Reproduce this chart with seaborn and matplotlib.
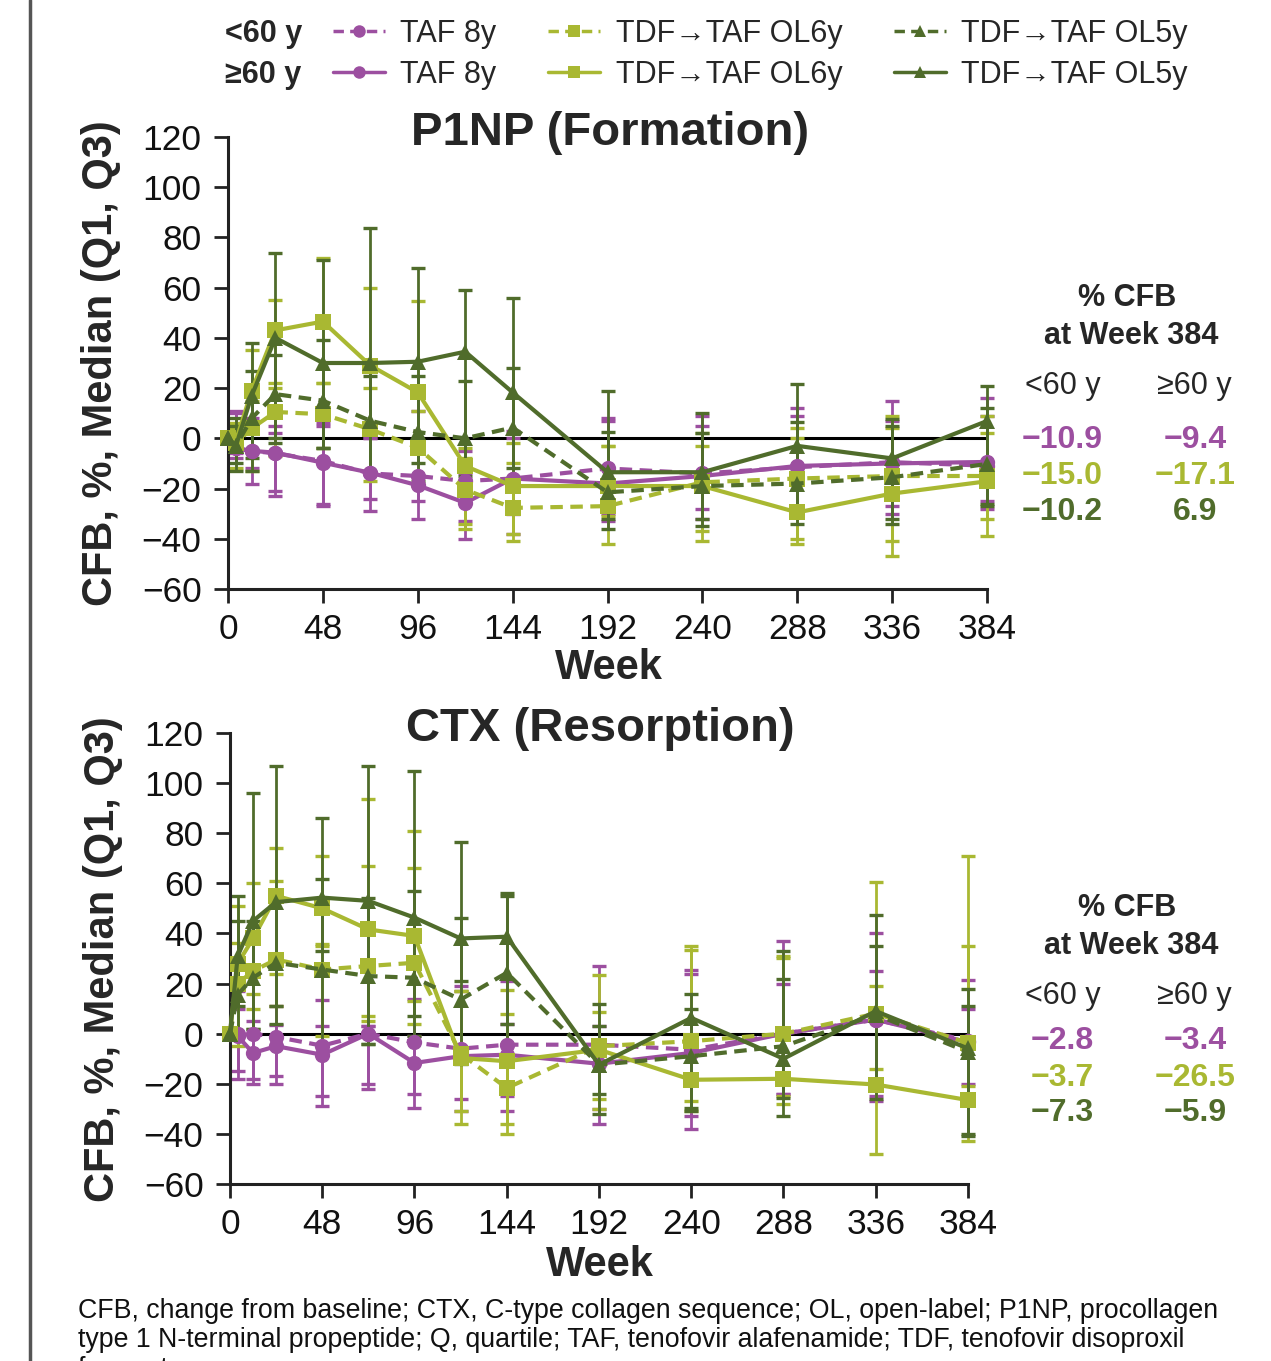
import matplotlib
matplotlib.use("Agg")
import matplotlib.pyplot as plt
from matplotlib.lines import Line2D
import seaborn as sns
import pandas as pd

W, H = 1271, 1361

weeks = [0, 4, 12, 24, 48, 72, 96, 120, 144, 192, 240, 288, 336, 384]
xticks = [0, 48, 96, 144, 192, 240, 288, 336, 384]
yticks = [-60, -40, -20, 0, 20, 40, 60, 80, 100, 120]

series_names = ["TAF <60", "TAF ≥60", "OL6 <60", "OL6 ≥60", "OL5 <60", "OL5 ≥60"]
legend_labels = ["TAF 8y", "TAF 8y", "TDF→TAF OL6y", "TDF→TAF OL6y", "TDF→TAF OL5y", "TDF→TAF OL5y"]

# ---------------- P1NP (Formation) ----------------
p1np_taf_lt60_med = [0, -4, -5, -6, -9, -14, -15, -17, -16, -12, -14, -11.5, -9.5, -10.9]
p1np_taf_lt60_q1 = [0, -6, -12, -21, -26, -24, -25, -33, -30, -30, -28, -27, -27, -25]
p1np_taf_lt60_q3 = [0, 10, 8, 5, 5, 0, 11, -5, 0, 8, 5, 9, 7, 9]
p1np_taf_ge60_med = [0, -4, -5, -5.7, -9.7, -13.7, -18.7, -25.7, -16, -18, -15, -11, -10, -9.4]
p1np_taf_ge60_q1 = [0, -8, -18, -23, -27, -29, -32, -40, -38, -33, -32, -29, -30, -28]
p1np_taf_ge60_q3 = [0, 11, 5, 2, 6, 0, -5, -14, 3, 7, 9, 12, 15, 16]
p1np_ol6_lt60_med = [0, -2, 4, 10.5, 9.6, 3.6, -3.7, -20.4, -27.7, -27, -17.5, -16, -15, -15.0]
p1np_ol6_lt60_q1 = [0, -5, -5, -7, -4, -17, -19, -36, -41, -42, -41, -40, -41, -32]
p1np_ol6_lt60_q3 = [0, 4, 15, 22, 22, 20, 11, -8, -10, -3, 2, 0, 4, 9]
p1np_ol6_ge60_med = [0, -1, 19, 43, 46.5, 29, 18.3, -11, -19, -19, -19, -29.5, -22, -17.1]
p1np_ol6_ge60_q1 = [0, -12, -13, 20, 22, 5, -3, -34, -38, -31, -37, -42, -47, -39]
p1np_ol6_ge60_q3 = [0, 6, 35, 55, 72, 60, 54.5, -4, -2, -3, -3, 4, 9, 2]
p1np_ol5_lt60_med = [0, -3, 8, 17.6, 15, 7, 2.5, 0, 4.3, -21.5, -19, -18, -15.5, -10.2]
p1np_ol5_lt60_q1 = [0, -10, -13, -2, -4, -14, -10, -15, -20, -36, -32, -30, -32, -26]
p1np_ol5_lt60_q3 = [0, 5, 27, 33, 39, 25, 25, 23, 28, 2.4, 2, 6.6, 5, 12]
p1np_ol5_ge60_med = [0, -3, 17, 40, 30, 30, 30.5, 34.5, 18.3, -13.5, -13.5, -3, -8, 6.9]
p1np_ol5_ge60_q1 = [0, -13, -8, 0, -4, -14, -17, -19, -12, -32, -35, -34, -34, -27]
p1np_ol5_ge60_q3 = [0, 8, 38, 74, 71, 83.6, 68, 59, 56, 18.7, 10, 21.6, 7.7, 21]

# ---------------- CTX (Resorption) ----------------
ctx_taf_lt60_med = [0, 0, 0, -1.3, -4.8, 0, -3.5, -6, -4.4, -4.4, -6.4, 0, 5.6, -2.8]
ctx_taf_lt60_q1 = [0, -15, -18, -17, -25, -20, -24, -31, -25, -30, -33, -24, -25, -20]
ctx_taf_lt60_q3 = [0, 10, 5, 11, 3, 3, 14, 17, 4, 3, 24, 20, 25, 10]
ctx_taf_ge60_med = [0, -1, -7.7, -5, -8.4, 0, -11.7, -9, -8.4, -12, -7.7, 0, 5.6, -3.4]
ctx_taf_ge60_q1 = [0, -18, -20, -20, -29, -22, -29.5, -26, -31, -36, -38, -24, -27, -25]
ctx_taf_ge60_q3 = [0, 17, 0, 3.6, 13.6, 3, -1, 19, 21, 27, 25.5, 37, 40, 21.5]
ctx_ol6_lt60_med = [0, 20, 25, 29.6, 25.6, 27, 28.3, -8, -21.7, -5, -3, 0, 8, -3.7]
ctx_ol6_lt60_q1 = [0, -5, 10, 11, -1, 5, 13, -31, -40, -26, -27, -25, -14, -21]
ctx_ol6_lt60_q3 = [0, 36, 40, 61, 35, 67, 66, 17, 17.6, 8.5, 35, 30, 19, 35]
ctx_ol6_ge60_med = [0, 28, 38, 55, 50, 41.6, 39, -9.7, -11, -6.4, -18.4, -18, -20.3, -26.5]
ctx_ol6_ge60_q1 = [0, 0, 16, 24, 35.6, 7, 4, -36, -36, -30, -31, -28, -48, -43]
ctx_ol6_ge60_q3 = [0, 51, 60, 74, 71, 93.6, 81, 17, 8, 23.5, 33.5, 31, 60.5, 71]
ctx_ol5_lt60_med = [0, 15.6, 22.3, 28.3, 25.6, 23, 22.3, 13.6, 24.3, -12.4, -9, -5, 7.6, -7.3]
ctx_ol5_lt60_q1 = [0, 0, 2, 11, -4, -4, -1, -12, 4, -24, -29.7, -25.7, -19, -40]
ctx_ol5_lt60_q3 = [0, 45, 45, 55, 61.6, 54, 57, 46, 55, 3, 10, 22, 35, 11]
ctx_ol5_ge60_med = [0, 31, 45, 52.5, 54.3, 53, 46.3, 38, 38.7, -12.4, 6.3, -10, 9, -5.9]
ctx_ol5_ge60_q1 = [0, 11, 2, 4, 33, -4, 7, 21, -4, -32, -31, -33, -26, -41]
ctx_ol5_ge60_q3 = [0, 55, 96, 106.7, 86, 107, 105, 76.5, 56, 12, 16, 33, 47.5, 17.8]

# week-384 annotation values
p1np_cfb384_lt60 = ["−10.9", "−15.0", "−10.2"]
p1np_cfb384_ge60 = ["−9.4", "−17.1", "6.9"]
ctx_cfb384_lt60 = ["−2.8", "−3.7", "−7.3"]
ctx_cfb384_ge60 = ["−3.4", "−26.5", "−5.9"]

PURPLE = "#9C4FA0"
LGREEN = "#A9B832"
DGREEN = "#506C2B"
colors = {"TAF <60": PURPLE, "TAF ≥60": PURPLE, "OL6 <60": LGREEN, "OL6 ≥60": LGREEN,
          "OL5 <60": DGREEN, "OL5 ≥60": DGREEN}
markers = {"TAF <60": "o", "TAF ≥60": "o", "OL6 <60": "s", "OL6 ≥60": "s",
           "OL5 <60": "^", "OL5 ≥60": "^"}
dashes = {"TAF <60": (3, 1.8), "TAF ≥60": "", "OL6 <60": (3, 1.8), "OL6 ≥60": "",
          "OL5 <60": (3, 1.8), "OL5 ≥60": ""}
msizes = {"o": 11, "s": 12, "^": 12}

sns.set_theme(style="ticks")
plt.rcParams["font.family"] = ["Liberation Sans", "DejaVu Sans"]
plt.rcParams["axes.unicode_minus"] = True

fig = plt.figure(figsize=(W / 100, H / 100), dpi=100)


def fx(x):
    return x / W


def fy(y):
    return 1 - y / H


def build(meds, q1s, q3s):
    rows = []
    for name, m, a, b in zip(series_names, meds, q1s, q3s):
        for w, mv, av, bv in zip(weeks, m, a, b):
            rows.append({"series": name, "week": w, "median": mv, "q1": av, "q3": bv})
    return pd.DataFrame(rows)


p1np_df = build(
    [p1np_taf_lt60_med, p1np_taf_ge60_med, p1np_ol6_lt60_med, p1np_ol6_ge60_med, p1np_ol5_lt60_med, p1np_ol5_ge60_med],
    [p1np_taf_lt60_q1, p1np_taf_ge60_q1, p1np_ol6_lt60_q1, p1np_ol6_ge60_q1, p1np_ol5_lt60_q1, p1np_ol5_ge60_q1],
    [p1np_taf_lt60_q3, p1np_taf_ge60_q3, p1np_ol6_lt60_q3, p1np_ol6_ge60_q3, p1np_ol5_lt60_q3, p1np_ol5_ge60_q3])
ctx_df = build(
    [ctx_taf_lt60_med, ctx_taf_ge60_med, ctx_ol6_lt60_med, ctx_ol6_ge60_med, ctx_ol5_lt60_med, ctx_ol5_ge60_med],
    [ctx_taf_lt60_q1, ctx_taf_ge60_q1, ctx_ol6_lt60_q1, ctx_ol6_ge60_q1, ctx_ol5_lt60_q1, ctx_ol5_ge60_q1],
    [ctx_taf_lt60_q3, ctx_taf_ge60_q3, ctx_ol6_lt60_q3, ctx_ol6_ge60_q3, ctx_ol5_lt60_q3, ctx_ol5_ge60_q3])


def panel(rect, df):
    ax = fig.add_axes(rect)
    ax.axhline(0, color="black", lw=2.2, zorder=1)
    for name in series_names:
        d = df[df["series"] == name]
        ax.errorbar(d["week"], d["median"],
                    yerr=[d["median"] - d["q1"], d["q3"] - d["median"]],
                    fmt="none", ecolor=colors[name], elinewidth=2.0, capsize=5,
                    capthick=2.4, zorder=2, clip_on=False)
    for name in series_names:
        d = df[df["series"] == name]
        sns.lineplot(data=d, x="week", y="median", color=colors[name],
                     marker=markers[name], markersize=msizes[markers[name]],
                     markeredgewidth=0, lw=3, ax=ax, legend=False,
                     errorbar=None, sort=False, zorder=3, clip_on=False)
        ln = ax.get_lines()[-1]
        if dashes[name]:
            ln.set_dashes(dashes[name])
    ax.set_xlim(0, 384)
    ax.set_ylim(-60, 120)
    ax.set_xticks(xticks)
    ax.set_yticks(yticks)
    ax.set_xlabel("")
    ax.set_ylabel("")
    for s in ["top", "right"]:
        ax.spines[s].set_visible(False)
    for s in ["left", "bottom"]:
        ax.spines[s].set_linewidth(2.2)
        ax.spines[s].set_color("#222222")
    ax.tick_params(axis="both", length=10, width=2, labelsize=25.5, color="#222222",
                   labelcolor="#111111")
    ax.tick_params(axis="y", pad=9)
    ax.tick_params(axis="x", pad=7)
    return ax


ax1 = panel([fx(228), fy(589), fx(987) - fx(228), fy(137) - fy(589)], p1np_df)
ax2 = panel([fx(230), fy(1184), fx(968) - fx(230), fy(733) - fy(1184)], ctx_df)

# titles and axis labels
fig.text(fx(610), fy(133), "P1NP (Formation)", ha="center", va="center", fontsize=34, fontweight="bold")
fig.text(fx(600), fy(729), "CTX (Resorption)", ha="center", va="center", fontsize=34, fontweight="bold")
fig.text(fx(609), fy(668), "Week", ha="center", va="center", fontsize=30, fontweight="bold")
fig.text(fx(600), fy(1265), "Week", ha="center", va="center", fontsize=30, fontweight="bold")
fig.text(fx(101), fy(363), "CFB, %, Median (Q1, Q3)", ha="center", va="center", rotation=90,
         fontsize=30, fontweight="bold")
fig.text(fx(103), fy(959), "CFB, %, Median (Q1, Q3)", ha="center", va="center", rotation=90,
         fontsize=30, fontweight="bold")

# legend
handles = []
for name in series_names:
    h = Line2D([], [], color=colors[name], lw=2.5,
               marker=markers[name], markersize=9, markeredgewidth=0)
    if dashes[name]:
        h.set_dashes(dashes[name])
    handles.append(h)
fig.legend(handles, legend_labels, ncol=3, loc="upper left",
           bbox_to_anchor=(fx(333), fy(19)), frameon=False, fontsize=22,
           columnspacing=1.7, handlelength=1.7, handletextpad=0.5,
           labelspacing=0.36, borderpad=0, borderaxespad=0)
fig.text(fx(225), fy(34), "<60 y", ha="left", va="center", fontsize=22, fontweight="bold")
fig.text(fx(225), fy(75), "≥60 y", ha="left", va="center", fontsize=22, fontweight="bold")


def annot(y_head, y_sub, y_rows, lt, ge):
    fig.text(fx(1127), fy(y_head), "% CFB", ha="center", va="center", fontsize=22, fontweight="bold")
    fig.text(fx(1131), fy(y_head + 38), "at Week 384", ha="center", va="center", fontsize=22,
             fontweight="bold")
    fig.text(fx(1063), fy(y_sub), "<60 y", ha="center", va="center", fontsize=22)
    fig.text(fx(1194), fy(y_sub), "≥60 y", ha="center", va="center", fontsize=22)
    for i, c in enumerate([PURPLE, LGREEN, DGREEN]):
        fig.text(fx(1062), fy(y_rows[i]), lt[i], ha="center", va="center", fontsize=23,
                 fontweight="bold", color=c)
        fig.text(fx(1195), fy(y_rows[i]), ge[i], ha="center", va="center", fontsize=23,
                 fontweight="bold", color=c)


annot(298, 386, [440, 476, 512], p1np_cfb384_lt60, p1np_cfb384_ge60)
annot(908, 996, [1041, 1078, 1113], ctx_cfb384_lt60, ctx_cfb384_ge60)

# left border line
fig.add_artist(Line2D([fx(30), fx(30)], [0, 1], color="#555555", lw=2.5))

# footnote
foot = ["CFB, change from baseline; CTX, C-type collagen sequence; OL, open-label; P1NP, procollagen",
        "type 1 N-terminal propeptide; Q, quartile; TAF, tenofovir alafenamide; TDF, tenofovir disoproxil",
        "fumarate."]
for i, line in enumerate(foot):
    fig.text(fx(78), fy(1311 + 29 * i), line, ha="left", va="center", fontsize=19.3, color="#111111")

fig.savefig("out.png", dpi=100)
